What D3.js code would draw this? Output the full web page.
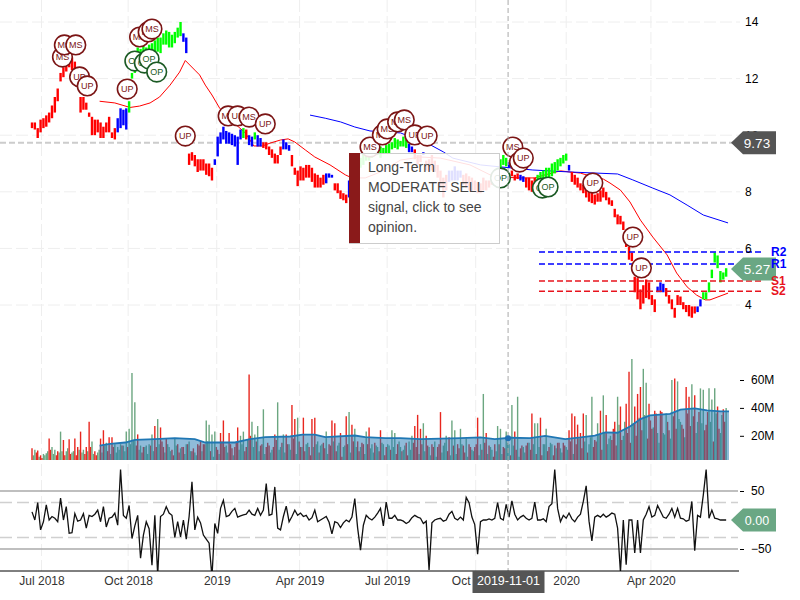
<!DOCTYPE html>
<html>

<head>
  <meta charset='utf-8'>
  <style>
    html, body { margin: 0; padding: 0; background: #fff; }
    svg { display: block; font-family: "Liberation Sans", Arial, sans-serif; }
  </style>
  <script src="https://cdn.jsdelivr.net/npm/d3@7"></script>
</head>

<body>

  <script type='module'>
    // one sample every 3 chart days, day 0 is the left edge of the series
    const sampleStep = 3

    const priceHigh = [
      10.45,10.45,10.25,10.55,10.6,10.7,10.8,11.05,11.35,11.65,
      12.2,12.4,12.6,12.85,12.75,12.6,12.3,11.35,11.35,11.15,
      10.8,10.65,10.55,10.55,10.45,10.3,10.45,10.65,10.1,10.25,
      10.6,10.95,10.9,10.95,11.2,12.2,12.65,13.1,13.05,13.2,
      13.1,13.2,13.25,13.35,13.45,13.45,13.6,13.7,13.65,13.55,
      13.65,13.8,14,13.6,13.45,9.35,9.4,9.3,9.15,9.15,
      9.15,9,9,8.85,9.15,9.95,10.1,10.3,10.15,10.1,
      10.05,10,9.95,10.2,10.25,10.2,10,9.95,10.1,10,
      9.9,9.75,9.75,9.6,9.5,9.35,9.3,9.6,9.85,9.75,
      9.65,9.3,8.85,8.75,8.9,8.85,8.95,8.95,8.85,8.65,
      8.6,8.5,8.6,8.65,8.65,8.6,8.3,8.3,8.05,7.95,
      7.9,8.4,8.6,8.85,9.1,9.2,9.4,9.55,9.55,9.6,
      9.65,9.6,9.6,9.55,9.65,9.7,9.75,9.9,9.85,9.8,
      9.95,9.85,9.7,9.6,9.5,9.3,9.3,9.4,9.1,9.15,
      9.3,9.1,8.95,8.75,8.5,8.6,8.75,8.75,8.9,8.75,
      8.75,8.6,8.65,8.55,8.5,8.4,8.35,8.3,8.5,8.4,
      8.4,8.5,8.75,8.85,9.15,9.3,9.2,9.05,8.75,8.6,
      8.65,8.6,8.55,8.5,8.5,8.4,8.5,8.6,8.7,8.75,
      8.85,8.85,9,9.05,9.15,9.2,9.3,9.35,8.95,8.7,
      8.6,8.5,8.3,8.25,8.15,8,8,7.9,7.95,8.05,
      8.15,8,7.8,7.7,7.4,7.2,7.15,6.95,6.5,6.05,
      5.85,5,4.95,4.55,4.7,4.9,4.8,4.35,4.2,4.65,
      4.8,4.75,4.6,4.35,4.2,3.9,4.35,4.3,4.1,4,
      4,3.95,3.95,3.95,4.2,4.45,4.45,4.8,5.25,5.85,
      5.75,5.2,5.15,5.3
    ]
    const priceLow = [
      10.25,10.2,9.9,10.1,10.25,10.3,10.45,10.6,10.8,11.2,
      11.9,12.05,12.25,12.4,12.3,12.2,11.8,10.8,10.9,10.9,
      10.65,10,10,10.1,9.9,9.9,10.1,10.1,9.9,9.85,
      10.1,10.25,10.35,10.2,10.8,12,12.2,12.75,12.65,12.85,
      12.75,12.85,12.9,12.85,12.95,12.9,13.2,13.2,13.1,13.1,
      13.25,13.45,13.5,13.3,12.9,8.95,9.1,8.9,8.7,8.75,
      8.75,8.6,8.55,8.4,8.95,9.25,9.7,9.85,9.7,9.7,
      9.65,9.6,8.95,9.85,9.9,9.85,9.65,9.6,9.85,9.6,
      9.6,9.55,9.5,9.3,9.2,9,9,9.3,9.5,9.5,
      9.45,8.9,8.6,8.2,8.4,8.4,8.5,8.5,8.35,8.15,
      8.15,8.15,8.25,8.3,8.5,8.5,8.05,7.95,7.75,7.7,
      7.6,7.8,8.05,8.4,8.7,8.85,8.95,9.1,9.1,9.2,
      9.3,9.3,9.2,9.35,9.35,9.35,9.5,9.55,9.5,9.6,
      9.6,9.55,9.4,9.4,9.15,8.95,9.05,9.3,8.75,8.75,
      8.75,8.7,8.5,8.2,7.8,8.05,8.35,8.4,8.4,8.4,
      8.5,8.25,8.15,8.05,8,8.05,7.95,7.95,8.05,8.05,
      8.15,8.25,8.5,8.5,8.75,8.95,8.9,8.85,8.55,8.4,
      8.45,8.4,8.35,8.15,8.05,8,8.05,8.2,8.3,8.35,
      8.4,8.5,8.55,8.65,8.75,8.9,9,9.1,8.75,8.35,
      8.25,8.15,8.05,7.95,7.8,7.65,7.6,7.55,7.65,7.65,
      7.8,7.7,7.55,7.5,7.1,6.85,6.85,6.65,6.05,5.6,
      5.55,4.45,4.2,3.85,4.05,4.25,4.2,4,3.75,4.45,
      4.45,4.45,4.3,4.05,3.85,3.55,4,4,3.85,3.75,
      3.6,3.55,3.7,3.75,3.95,4.2,4.2,4.45,4.95,5.5,
      5.3,4.8,4.9,5
    ]
    const priceTrend = [
      [30,"r"],[4,"b"],[19,"g"],[2,"b"],[9,"r"],[10,"b"],[1,"g"],[1,"r"],[2,"b"],[1,"g"],
      [2,"b"],[7,"r"],[3,"b"],[12,"r"],[3,"b"],[5,"r"],[2,"b"],[19,"g"],[2,"b"],[3,"r"],
      [1,"b"],[8,"r"],[5,"b"],[11,"r"],[5,"g"],[1,"b"],[3,"r"],[2,"b"],[4,"r"],[11,"g"],
      [1,"b"],[30,"r"],[3,"b"],[11,"r"],[2,"b"],[9,"g"]
    ]

    const ma50Days = [71,87,103,113,124,134,145,155,161,171,176,182,189,197,210,224,233,242,250,261,269,276,287,297,313,329,336,350,366,387,408,429,460,481,492,513,528,539,555,565,576,586,600,607,618,628,639,652,667,677,688,698,707,712,731]
    const ma50 = [11.2,11.14,10.98,11.03,11.14,11.35,11.77,12.23,12.64,12.3,12.13,11.77,11.42,10.96,10.5,10.08,9.62,9.62,9.72,9.83,9.87,9.76,9.48,9.23,8.95,8.6,8.49,8.49,8.7,9.12,9.23,9.19,8.95,8.6,8.52,8.49,8.49,8.6,8.74,8.7,8.66,8.56,8.45,8.31,8.06,7.64,7,6.4,5.77,5.13,4.64,4.35,4.18,4.18,4.42]
    const ma200Days = [292,308,324,339,355,387,415,432,442,471,492,526,565,615,631,652,670,688,705,731]
    const ma200 = [10.71,10.6,10.47,10.29,10.15,10.08,9.72,9.41,9.19,8.95,8.88,8.77,8.7,8.63,8.42,8.13,7.89,7.53,7.18,6.9]

    const pivotNames = ["R2", "R1", "S1", "S2"]
    const pivotLevels = [5.87, 5.45, 4.85, 4.49]

    const signalDays = [32,34,46,50,58,100,108,118,123,131,113,122,126,161,206,216,228,245,355,368,373,384,391,402,415,492,505,512,516,536,542,589,631,640]
    const signalPrices = [12.76,13.19,13.19,12.06,11.74,11.63,12.62,12.55,12.69,12.23,13.47,13.65,13.75,9.97,10.68,10.68,10.64,10.4,9.58,10.01,10.22,10.47,10.54,10.01,9.97,8.49,9.58,9.05,9.19,8.13,8.17,8.31,6.4,5.31]
    const signalLabels = ["MS","MS","MS","UP","UP","UP","OP","OP","OP","OP","MS","MS","MS","UP","MS","UP","MS","UP","MS","MS","MS","MS","MS","UP","UP","OP","MS","UP","UP","OP","OP","UP","UP","UP"]

    // millions of shares, on the sample days
    const volume = [
      11,10,9.5,6,7,7.5,18,12,10,9,
      23,17,9,17.5,8,18,12,23,10,12,
      30,16,9,8,18,24,15,19,19,14,
      12,14,13,23,25,65,44,21,13,12,
      13,14,21,27,32,26,12,18,12,10,
      18,14,11,12,14,16,9,8,14,16,
      14,31,28,21,23,10,22,31,13,22,
      11,12,26,20,23,12,64,30,21,27,
      13,39,12,13,10,21,44,12,21,21,
      14,42,32,33,12,33,14,12,32,33,
      16,13,15,23,14,31,29,13,22,12,
      34,37,28,25,16,12,14,23,26,14,
      15,12,24,14,12,13,24,22,14,12,
      10,15,16,20,27,35,25,29,20,12,
      14,16,12,37,13,20,19,31,24,14,
      25,13,18,14,10,12,33,14,50,22,
      13,10,14,27,25,12,23,14,42,23,
      48,11,12,13,15,36,29,29,33,14,
      25,12,14,13,15,11,15,12,24,36,
      34,28,22,36,35,14,48,17,29,38,
      49,35,18,17,30,48,41,20,43,66,
      75,41,50,55,68,58,43,25,38,22,
      38,22,36,24,60,61,59,30,25,55,
      48,57,49,30,54,53,28,54,46,54,
      41,22,39,40
    ]
    const volumeSide = [
      "rgrrggrggr","grgrgrrrgr","rgrgrrgrrg","gggggggrgr","gggrgrrrgr","grgrggrgrr",
      "rggggrrrgr","rrrggrrggg","rgrrgrgggr","grrgrrgrrr","ggrgrrrgrg","rgrgrgrgrg",
      "rgrgrgggrg","grggrrrgrg","rgrrggrggr","grgrgrrggr","rgrggrgggr","grgrgrggrg",
      "grgrrgrgrr","rrrrgggrgr","grgrrgrgrr","grrrggrrrg","rggrgrggrr","rgrgggrggg","rgrg"
    ].join("")

    // the days between the samples, these sit mostly under the average
    const volumeMid = [
      6,8,5,4,6,9,10,7,6,8,
      9,6,11,7,9,6,10,8,7,9,
      12,7,6,10,8,13,9,7,12,8,
      10,13,9,12,14,17,13,10,8,12,
      7,13,9,12,14,16,8,14,9,6,
      13,8,12,7,14,9,11,6,13,9,
      14,16,9,5,12,7,16,12,8,14,
      6,15,10,14,9,17,20,12,16,9,
      14,7,15,8,12,17,10,15,8,14,
      10,18,7,16,12,9,15,6,12,14,
      8,14,11,7,13,16,9,15,5,13,
      14,8,16,12,9,15,7,14,11,8,
      13,9,15,6,14,10,12,7,16,9,
      13,6,10,15,12,7,14,9,13,6,
      12,5,14,8,15,9,6,13,7,11,
      14,8,5,12,9,14,6,10,15,7,
      12,5,9,14,7,11,15,6,13,10,
      5,13,8,15,10,14,7,12,6,14,
      9,15,6,11,15,8,13,10,16,7,
      14,18,11,16,8,19,12,16,21,10,
      22,14,20,25,13,28,17,30,22,15,
      29,20,33,24,35,18,31,26,36,15,
      37,21,30,18,34,25,32,28,19,36,
      27,34,22,37,29,24,37,30,16,36,
      25,35,30
    ]
    const volumeMidSide = [
      "grgrggrgrg","grgrgrggrg","rgrgggrgrg","grgrggrgrg","grgrgrgggr","grrgrgrgrg",
      "rgrgrgrrgr","grggrgrgrg","rgrgrrgrgr","grgrgrgrgg","rgrgrgrgrg","rgrgrrgrgg",
      "grgrgrgrgr","grgrrgrgrg","rgrggrgrgr","grgrgrgrrg","grgrgrgrgr","grgrrgrgrg",
      "rgrgrgrgrg","rgrgrgrrgr","gggrrgrgrr","grgrgrrgrg","rgrgrrgrgr","rrgrgrrgrg","rgr"
    ].join("")

    const volumeMaDays = [71,82,98,108,129,150,171,182,213,229,245,271,284,297,308,339,350,371,387,408,450,471,486,502,523,539,560,576,591,602,615,628,639,649,670,681,696,709,723,732]
    const volumeMa = [13,14.2,15.2,17.1,17.6,18.3,17.6,15.2,15.2,17.6,19,19.5,20.9,20.9,19,20.2,19,18.3,18.3,17.6,18.3,18.8,17.6,18.6,18.3,20,17.6,18.8,20.2,22.4,22.2,26.7,32,34.7,35.7,38.8,39.7,38.3,37.5,37.5]

    const momentum = [
      14,0,30,-17,-3,26,0,6,3,-3,
      38,0,23,-23,-22,11,-2,0,11,-14,
      8,6,10,17,-3,23,-12,3,5,12,
      -9,87,8,3,25,-32,-10,8,-66,-26,
      -3,-15,-78,8,-95,6,10,23,12,8,
      -30,-3,-29,0,-33,6,66,-17,5,-5,
      -26,-33,-40,-98,-6,-23,20,34,6,8,
      15,20,5,7,9,10,17,10,8,20,
      8,17,63,8,10,57,-14,-17,6,24,
      -3,6,17,8,12,6,8,0,4,17,
      -3,0,3,6,-4,-24,-3,-5,-13,-5,
      0,-3,5,37,-14,-52,-9,8,3,0,
      5,12,20,-10,31,3,3,8,0,0,
      -2,-6,-3,4,8,5,3,-6,-2,-86,
      -5,0,2,3,-2,0,10,15,3,0,
      5,0,39,30,5,-8,-59,-3,0,0,
      2,0,3,30,3,0,27,5,33,10,
      0,5,8,3,0,3,31,0,0,2,
      -3,23,28,87,20,-3,8,3,12,2,
      -3,5,10,32,59,-2,-36,5,8,5,
      10,5,8,12,10,-14,-90,0,-77,0,
      0,-57,0,-57,0,10,23,5,8,25,
      15,5,3,10,20,5,20,3,2,-2,
      0,32,-53,8,5,43,87,3,17,3,
      2,0,0,0
    ]

    const tickDays = [10,101,194,281,373,466,561,650]
    const tickNames = ["Jul 2018","Oct 2018","2019","Apr 2019","Jul 2019","Oct 2019","2020","Apr 2020"]
    const priceTicks = [14, 12, 10, 8, 6, 4]
    const volumeTicks = [20, 40, 60]
    const momentumTicks = [50, -50]
    const momentumBands = [30, -30]

    const lastPrice = 9.73
    const lastClose = 5.27
    const lastMomentum = 0
    const crossDay = 500
    const crossDate = "2019-11-01"
    const crossVolume = 18.3
    const opinionLines = ["Long-Term", "MODERATE SELL", "signal, click to see", "opinion."]

    let [width, height] = [800, 600]
    const svg = d3.select("body").append("svg")
      .attr("width", width)
      .attr("height", height)
      .attr("viewBox", [0, 0, width, height]);

    const x = d3.scaleLinear().domain([0, 732]).range([32, 729]);
    const y = d3.scaleLinear().domain([14, 4]).range([22, 305]);
    const yVol = d3.scaleLinear().domain([0, 60]).range([463.7, 380]);
    const yMom = d3.scaleLinear().domain([50, -50]).range([491, 549]);

    const trendColor = { r: "#ff0000", b: "#0000ff", g: "#00ff00" };
    const sideColor = { r: "#e8261e", g: "#6ba680" };
    const trend = priceTrend.flatMap(([n, c]) => Array(n).fill(c));

    const defs = svg.append("defs");
    defs.append("clipPath").attr("id", "volClip").append("rect")
      .attr("x", 0).attr("y", 355).attr("width", 740).attr("height", 105);
    defs.append("clipPath").attr("id", "momClip").append("rect")
      .attr("x", 0).attr("y", 469).attr("width", 740).attr("height", 102);

    // grid
    const gGrid = svg.append("g").attr("stroke", "#eeeeee").attr("stroke-dasharray", "12 4");
    gGrid.selectAll("line.v").data(tickDays).join("line").attr("class", "v")
      .attr("x1", d => x(d)).attr("x2", d => x(d)).attr("y1", 0).attr("y2", 571);
    gGrid.selectAll("line.h").data(priceTicks).join("line").attr("class", "h")
      .attr("x1", 0).attr("x2", 740).attr("y1", d => y(d)).attr("y2", d => y(d));

    // last price
    svg.append("line")
      .attr("x1", 0).attr("x2", 736).attr("y1", y(lastPrice)).attr("y2", y(lastPrice))
      .attr("stroke", "#cccccc").attr("stroke-width", 2).attr("stroke-dasharray", "6 3");

    // moving averages
    const line = d3.line().x(d => x(d[0])).y(d => y(d[1]));
    svg.append("path").attr("d", line(d3.zip(ma50Days, ma50)))
      .attr("fill", "none").attr("stroke", "#ff0000").attr("stroke-width", 1);
    svg.append("path").attr("d", line(d3.zip(ma200Days, ma200)))
      .attr("fill", "none").attr("stroke", "#0000ff").attr("stroke-width", 1);

    // price bars
    svg.append("g").selectAll("line")
      .data(priceHigh)
      .join("line")
      .attr("x1", (d, i) => x(i * sampleStep))
      .attr("x2", (d, i) => x(i * sampleStep))
      .attr("y1", d => y(d))
      .attr("y2", (d, i) => y(priceLow[i]))
      .attr("stroke", (d, i) => trendColor[trend[i]])
      .attr("stroke-width", 2.4);

    // support and resistance
    const gPivot = svg.append("g");
    gPivot.selectAll("line").data(pivotLevels).join("line")
      .attr("x1", 539).attr("x2", 762)
      .attr("y1", d => y(d)).attr("y2", d => y(d))
      .attr("stroke", (d, i) => i < 2 ? "#0000ff" : "#e8141e")
      .attr("stroke-width", 1.5)
      .attr("stroke-dasharray", "6 3");

    // signal circles
    const signal = svg.append("g").selectAll("g")
      .data(signalLabels)
      .join("g")
      .attr("transform", (d, i) => `translate(${x(signalDays[i])},${y(signalPrices[i])})`);
    signal.append("circle")
      .attr("r", 9.8)
      .attr("fill", "#ffffff")
      .attr("stroke", d => d == "OP" ? "#1b5a24" : "#7b1515")
      .attr("stroke-width", 1.6);
    signal.append("text")
      .attr("text-anchor", "middle")
      .attr("dy", "0.36em")
      .attr("font-size", 9)
      .attr("fill", d => d == "OP" ? "#1b5a24" : "#7b1515")
      .text(d => d);

    // volume panel
    const gVol = svg.append("g").attr("clip-path", "url(#volClip)");
    gVol.selectAll("line.mid")
      .data(volumeMid)
      .join("line")
      .attr("class", "mid")
      .attr("x1", (d, i) => x((i + 0.5) * sampleStep))
      .attr("x2", (d, i) => x((i + 0.5) * sampleStep))
      .attr("y1", 460)
      .attr("y2", d => yVol(d))
      .attr("stroke", (d, i) => sideColor[volumeMidSide[i]])
      .attr("stroke-width", 1.4);
    gVol.selectAll("line.main")
      .data(volume)
      .join("line")
      .attr("class", "main")
      .attr("x1", (d, i) => x(i * sampleStep))
      .attr("x2", (d, i) => x(i * sampleStep))
      .attr("y1", 460)
      .attr("y2", d => yVol(d))
      .attr("stroke", (d, i) => sideColor[volumeSide[i]])
      .attr("stroke-width", 1.4);
    const volPts = d3.zip(volumeMaDays, volumeMa);
    gVol.append("path")
      .attr("d", d3.area().x(d => x(d[0])).y0(460).y1(d => yVol(d[1]))(volPts))
      .attr("fill", "#1f77b4").attr("fill-opacity", 0.5);
    gVol.append("path")
      .attr("d", d3.line().x(d => x(d[0])).y(d => yVol(d[1]))(volPts))
      .attr("fill", "none").attr("stroke", "#1f77b4").attr("stroke-width", 1.8);

    // momentum panel
    const gMom = svg.append("g");
    gMom.selectAll("line.band").data(momentumBands).join("line").attr("class", "band")
      .attr("x1", 0).attr("x2", 738).attr("y1", d => yMom(d)).attr("y2", d => yMom(d))
      .attr("stroke", "#d0d0d0").attr("stroke-width", 1.5).attr("stroke-dasharray", "12 5");
    gMom.selectAll("line.limit").data(momentumTicks).join("line").attr("class", "limit")
      .attr("x1", 0).attr("x2", 738).attr("y1", d => yMom(d)).attr("y2", d => yMom(d))
      .attr("stroke", "#aaaaaa").attr("stroke-width", 1.5);
    gMom.append("path")
      .attr("clip-path", "url(#momClip)")
      .attr("d", d3.line().x((d, i) => x(i * sampleStep)).y(d => yMom(d))(momentum))
      .attr("fill", "none").attr("stroke", "#111111").attr("stroke-width", 1.3);

    // crosshair
    svg.append("line")
      .attr("x1", x(crossDay)).attr("x2", x(crossDay)).attr("y1", 0).attr("y2", 571)
      .attr("stroke", "#aaaaaa").attr("stroke-dasharray", "5 3");
    svg.append("circle")
      .attr("cx", x(crossDay)).attr("cy", yVol(crossVolume)).attr("r", 3)
      .attr("fill", "#1f6fb4");

    // axes
    const gxAxis = svg.append("g").attr("transform", "translate(0,571)")
      .call(d3.axisBottom(x).tickValues(tickDays).tickSize(0).tickPadding(5)
        .tickFormat((d, i) => tickNames[i]));
    gxAxis.select(".domain").remove();
    gxAxis.selectAll("text").attr("font-size", 12).attr("font-family", "inherit").attr("fill", "#333333");
    svg.append("line").attr("x1", 0).attr("x2", 739).attr("y1", 571).attr("y2", 571)
      .attr("stroke", "#000000").attr("stroke-width", 1);

    const gyAxis = svg.append("g").attr("transform", "translate(745,0)")
      .call(d3.axisRight(y).tickValues(priceTicks).tickSize(0).tickPadding(0));
    const gVolAxis = svg.append("g").attr("transform", "translate(740,0)")
      .call(d3.axisRight(yVol).tickValues(volumeTicks).tickSize(4).tickPadding(7).tickFormat(d => d + "M"));
    const gMomAxis = svg.append("g").attr("transform", "translate(740,0)")
      .call(d3.axisRight(yMom).tickValues(momentumTicks).tickSize(4).tickPadding(7));
    for (const g of [gyAxis, gVolAxis, gMomAxis]) {
      g.select(".domain").remove();
      g.selectAll("text").attr("font-size", 12).attr("font-family", "inherit").attr("fill", "#000000");
    }

    // value tags on the right edge
    const tag = (cy, fill, label, size) => {
      const h = 11.5;
      const g = svg.append("g");
      g.append("path")
        .attr("d", `M731,${cy}L743,${cy - h}H776V${cy + h}H743Z`)
        .attr("fill", fill);
      g.append("text")
        .attr("x", 757).attr("y", cy).attr("dy", "0.36em")
        .attr("text-anchor", "middle")
        .attr("font-size", size).attr("fill", "#ffffff")
        .text(label);
    };
    tag(y(lastPrice), "#555555", d3.format(".2f")(lastPrice), 13.5);
    tag(y(lastClose), "#6aa784", d3.format(".2f")(lastClose), 13.5);
    tag(yMom(lastMomentum), "#6aa784", d3.format(".2f")(lastMomentum), 12.5);

    svg.append("g").selectAll("text").data(pivotLevels).join("text")
      .attr("x", 771)
      .attr("y", d => y(d))
      .attr("dy", "0.36em")
      .attr("font-size", 12)
      .attr("font-weight", "bold")
      .attr("fill", (d, i) => i < 2 ? "#0000ff" : "#e8141e")
      .text((d, i) => pivotNames[i]);

    // crosshair date
    svg.append("rect").attr("x", 472.5).attr("y", 571).attr("width", 72).attr("height", 22).attr("fill", "#555555");
    svg.append("text")
      .attr("x", 508.5).attr("y", 580).attr("dy", "0.36em")
      .attr("text-anchor", "middle")
      .attr("font-size", 12.5).attr("fill", "#ffffff")
      .text(crossDate);

    // opinion box
    const gBox = svg.append("g");
    gBox.append("rect")
      .attr("x", 349.5).attr("y", 153.5).attr("width", 150).attr("height", 90)
      .attr("fill", "#ffffff").attr("fill-opacity", 0.88).attr("stroke", "#cccccc");
    gBox.append("rect")
      .attr("x", 349).attr("y", 153).attr("width", 11).attr("height", 90)
      .attr("fill", "#8a1a1a");
    gBox.selectAll("text").data(opinionLines).join("text")
      .attr("x", 368)
      .attr("y", (d, i) => 172 + i * 20)
      .attr("font-size", 14)
      .attr("fill", "#444444")
      .text(d => d);
  </script>
</body>

</html>
